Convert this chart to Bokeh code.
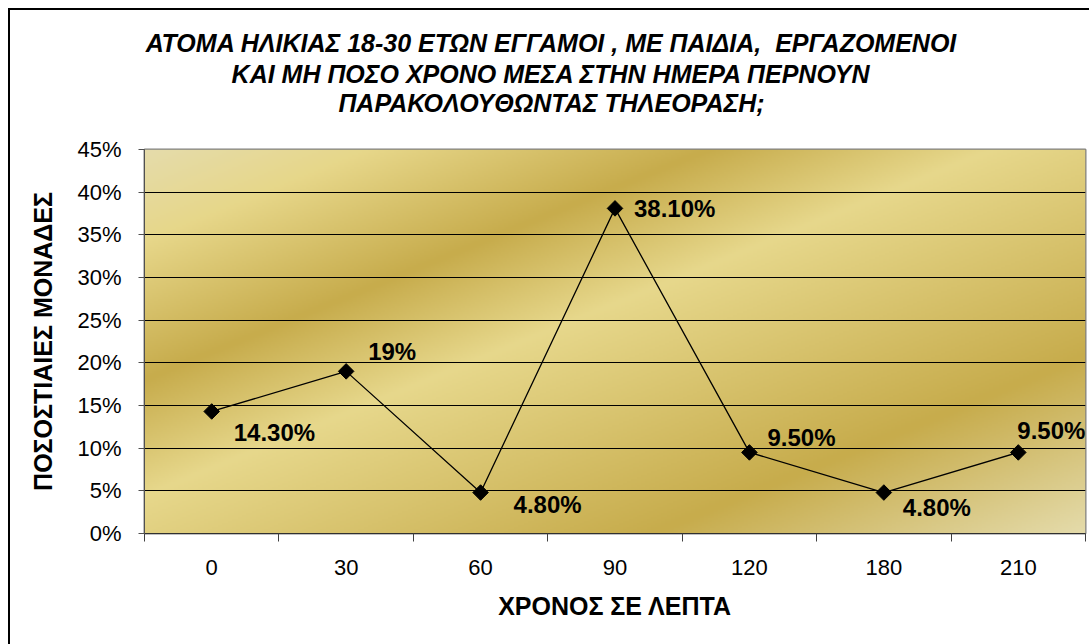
import numpy as np
from bokeh.plotting import figure
from bokeh.layouts import column
from bokeh.models import (Range1d, FixedTicker, NumeralTickFormatter,
                          ColumnDataSource, LabelSet)
from bokeh.core.properties import value
from bokeh.embed import file_html
from bokeh.resources import INLINE

# ---------------- data ----------------
categories = ["0", "30", "60", "90", "120", "180", "210"]
values = [0.143, 0.19, 0.048, 0.381, 0.095, 0.048, 0.095]
value_labels = ["14.30%", "19%", "4.80%", "38.10%", "9.50%", "4.80%", "9.50%"]
y_ticks = [0.0, 0.05, 0.10, 0.15, 0.20, 0.25, 0.30, 0.35, 0.40, 0.45]

title_lines = [
    "ΑΤΟΜΑ ΗΛΙΚΙΑΣ 18-30 ΕΤΩΝ ΕΓΓΑΜΟΙ , ΜΕ ΠΑΙΔΙΑ,\u00a0 ΕΡΓΑΖΟΜΕΝΟΙ",
    "ΚΑΙ ΜΗ ΠΟΣΟ ΧΡΟΝΟ ΜΕΣΑ ΣΤΗΝ ΗΜΕΡΑ ΠΕΡΝΟΥΝ",
    "ΠΑΡΑΚΟΛΟΥΘΩΝΤΑΣ ΤΗΛΕΟΡΑΣΗ;",
]
x_title = "ΧΡΟΝΟΣ ΣΕ ΛΕΠΤΑ"
y_title = "ΠΟΣΟΣΤΙΑΙΕΣ ΜΟΝΑΔΕΣ"

# label placement (style, pixels)
label_dx = [22, 22, 33, 19, 18, 19, -1]
label_dy = [-21, 20, -12, 0, 15, -15, 22]

FONT = "Liberation Sans"
n = len(categories)
xc = [i + 0.5 for i in range(n)]
ymax = y_ticks[-1]

# page layout (pixels in the page); content starts at (10, 10)
X0, Y0 = 10, 10
FRAME_L, FRAME_R, FRAME_T, FRAME_B = 144, 1085, 149, 533
TITLE_H = 120
TITLE_CX = 551
TITLE_CY = [42, 73, 102]
W_TOTAL, H_TOTAL = 1089 - X0, 644 - Y0

# ---- title strip (its own canvas; its frame is aligned with the chart frame,
#      and its coordinates are page pixels) ----
pt = figure(width=W_TOTAL, height=TITLE_H,
            x_range=Range1d(FRAME_L, FRAME_R), y_range=Range1d(Y0 + TITLE_H, Y0),
            output_backend="svg", toolbar_location=None, title=None,
            x_axis_location=None, y_axis_location=None,
            min_border_left=FRAME_L - X0, min_border_right=1089 - FRAME_R,
            min_border_top=0, min_border_bottom=0,
            outline_line_color=None, background_fill_color="white",
            border_fill_color="white")
pt.grid.visible = False
pt.text(x=[TITLE_CX] * len(title_lines), y=TITLE_CY, text=title_lines,
        text_font=value(FONT), text_font_size="25px", text_font_style="bold italic",
        text_color="black", text_align="center", text_baseline="middle")

# ---- main chart ----
p = figure(width=W_TOTAL, height=H_TOTAL - TITLE_H,
           x_range=Range1d(0, n), y_range=Range1d(0, ymax),
           output_backend="svg", toolbar_location=None, title=None,
           min_border_left=FRAME_L - X0, min_border_right=1089 - FRAME_R,
           min_border_top=FRAME_T - Y0 - TITLE_H, min_border_bottom=644 - FRAME_B,
           background_fill_color="white", border_fill_color="white")

# gold gradient background (diagonal, Excel "Gold" preset)
H, W = 192, 470
yy, xx = np.mgrid[0:H, 0:W]
t = ((xx + 0.5) / W + (H - 1 - yy + 0.5) / H) / 2.0
stops = [0.0, 0.12, 0.30, 0.45, 0.77, 1.0]
cols = ["#E5DCAC", "#E7D78A", "#C7AC4C", "#E7D88C", "#C7AC4C", "#E5DCAC"]
rgb = np.array([[int(c[1:3], 16), int(c[3:5], 16), int(c[5:7], 16)] for c in cols], float)
img = np.empty((H, W), dtype=np.uint32)
view = img.view(dtype=np.uint8).reshape((H, W, 4))
for k in range(3):
    view[:, :, k] = np.interp(t, stops, rgb[:, k]).astype(np.uint8)
view[:, :, 3] = 255
p.image_rgba(image=[img], x=0, y=0, dw=n, dh=ymax, level="image")

# frame / grid
p.outline_line_color = "#808080"
p.outline_line_width = 2
p.xgrid.visible = False
p.ygrid.ticker = FixedTicker(ticks=y_ticks)
p.ygrid.grid_line_color = "black"
p.ygrid.grid_line_width = 1

# axes
p.xaxis.ticker = FixedTicker(ticks=xc, minor_ticks=list(range(n + 1)))
p.xaxis.major_label_overrides = {xc[i]: categories[i] for i in range(n)}
p.xaxis.major_tick_out = 0
p.xaxis.major_tick_in = 0
p.xaxis.minor_tick_out = 8
p.xaxis.minor_tick_in = 0
p.xaxis.minor_tick_line_color = "#404040"
p.xaxis.axis_line_color = "#303030"
p.xaxis.major_label_standoff = 18
p.xaxis.axis_label = x_title
p.xaxis.axis_label_standoff = 14

p.yaxis.ticker = FixedTicker(ticks=y_ticks)
p.yaxis.formatter = NumeralTickFormatter(format="0%")
p.yaxis.major_tick_out = 6
p.yaxis.major_tick_in = 0
p.yaxis.minor_tick_line_color = None
p.yaxis.axis_line_color = "#505050"
p.yaxis.major_tick_line_color = "#505050"
p.yaxis.major_label_standoff = 17
p.yaxis.axis_label = y_title
p.yaxis.axis_label_standoff = 17

for ax in (p.xaxis, p.yaxis):
    ax.major_label_text_font = FONT
    ax.major_label_text_font_size = "22px"
    ax.major_label_text_color = "black"
    ax.axis_label_text_font = FONT
    ax.axis_label_text_font_size = "25px"
    ax.axis_label_text_font_style = "bold"
    ax.axis_label_text_color = "black"

# data
src = ColumnDataSource(dict(x=xc, y=values, text=value_labels,
                            dx=label_dx, dy=label_dy))
p.line("x", "y", source=src, line_color="black", line_width=1.3)
p.scatter("x", "y", source=src, marker="square", size=11, angle=np.pi / 4,
          fill_color="black", line_color="black")
labels = LabelSet(x="x", y="y", text="text", source=src, x_offset="dx", y_offset="dy",
                  text_font=value(FONT), text_font_size="24px", text_font_style="bold",
                  text_align="left", text_baseline="middle", text_color="black")
p.add_layout(labels)

page = column(pt, p, spacing=0)
page.styles = {"border-left": "2px solid black", "border-top": "2px solid black",
               "margin-left": "8px", "margin-top": "8px"}

open("out.html", "w").write(file_html(page, INLINE))
